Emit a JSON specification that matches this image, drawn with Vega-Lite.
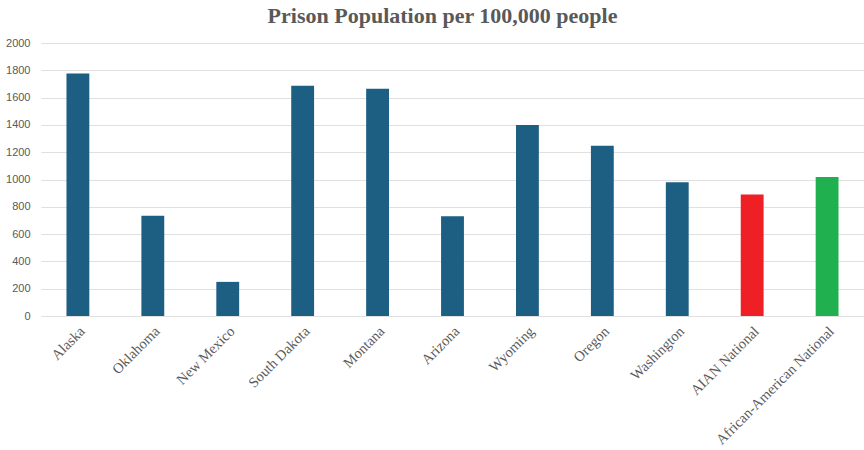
{
  "$schema": "https://vega.github.io/schema/vega-lite/v6.json",
  "autosize": "none",
  "width": 823,
  "height": 273,
  "padding": {"left": 41, "top": 43, "right": 0, "bottom": 134},
  "background": "white",
  "title": {
    "text": "Prison Population per 100,000 people",
    "font": "Liberation Serif",
    "fontSize": 22,
    "fontWeight": "bold",
    "color": "#595959",
    "anchor": "middle",
    "dx": -10,
    "offset": 9
  },
  "data": {
    "values": [
      {"place": "Alaska", "group": "State", "rate": 1777},
      {"place": "Oklahoma", "group": "State", "rate": 734},
      {"place": "New Mexico", "group": "State", "rate": 250},
      {"place": "South Dakota", "group": "State", "rate": 1686},
      {"place": "Montana", "group": "State", "rate": 1664},
      {"place": "Arizona", "group": "State", "rate": 730},
      {"place": "Wyoming", "group": "State", "rate": 1400},
      {"place": "Oregon", "group": "State", "rate": 1248},
      {"place": "Washington", "group": "State", "rate": 979},
      {"place": "AIAN National", "group": "AIAN", "rate": 891},
      {"place": "African-American National", "group": "African-American", "rate": 1018}
    ]
  },
  "mark": {"type": "bar"},
  "encoding": {
    "x": {
      "field": "place",
      "type": "nominal",
      "sort": null,
      "scale": {"paddingInner": 0.695, "paddingOuter": 0.34},
      "axis": {
        "title": null,
        "labelAngle": -45,
        "labelFont": "Liberation Serif",
        "labelFontSize": 14.5,
        "labelColor": "#595959",
        "ticks": false,
        "labelPadding": 8,
        "domainColor": "#e0e0e0",
        "labelOverlap": false
      }
    },
    "y": {
      "field": "rate",
      "type": "quantitative",
      "scale": {"domain": [0, 2000]},
      "axis": {
        "title": null,
        "values": [0, 200, 400, 600, 800, 1000, 1200, 1400, 1600, 1800, 2000],
        "labelFont": "Liberation Sans",
        "labelFontSize": 11,
        "labelColor": "#595959",
        "ticks": false,
        "domain": false,
        "labelPadding": 11,
        "gridColor": "#e0e0e0",
        "format": "d"
      }
    },
    "color": {
      "field": "group",
      "type": "nominal",
      "scale": {
        "domain": ["State", "AIAN", "African-American"],
        "range": ["#1c5f82", "#ee1f25", "#21b04f"]
      },
      "legend": null
    }
  },
  "config": {"view": {"stroke": null}}
}
